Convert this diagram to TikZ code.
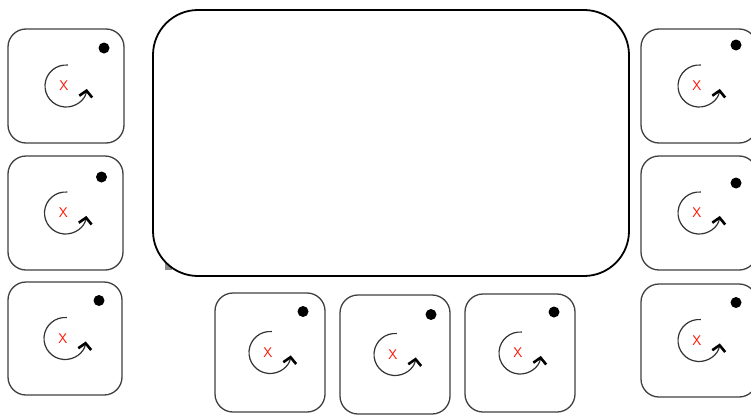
\documentclass[tikz,border=0pt]{standalone}
\usetikzlibrary{arrows.meta}
\tikzset{
  cellbox/.style={draw=black!75, line width=1.3pt, rounded corners=18pt, fill=white, inner sep=0pt},
  bigbox/.style={draw=black, line width=1.8pt, rounded corners=45pt, fill=white, inner sep=0pt, minimum width=476pt, minimum height=266pt},
  cdot/.style={circle, fill=black, inner sep=0pt, minimum size=11pt},
  turn/.style={draw=black!80, line width=1.2pt, -{Straight Barb[length=6pt,width=13pt,line width=2.6pt,color=black]}},
  xmark/.style={text=red!85!orange, font=\sffamily\fontsize{14}{14}\selectfont, inner sep=0pt}
}
% #1 name, #2 center x, #3 center y, #4 width, #5 height, #6 dot dx, #7 dot dy
\newcommand\mycell[7]{%
  \node[cellbox, minimum width=#4pt, minimum height=#5pt] (#1) at (#2,#3) {};
  \node[cdot] (#1d) at ([shift={(#6,#7)}]#1.center) {};
  \node[xmark] (#1x) at ([shift={(-2,0)}]#1.center) {X};
  \draw[turn] ([shift={(85:21pt)}]#1.center) arc[start angle=85, end angle=352, radius=21pt];
}
\begin{document}
\begin{tikzpicture}[x=1pt,y=-1pt]
\useasboundingbox (0,0) rectangle (751,415);
\fill[white] (0,0) rectangle (751,415);
\fill[black!45] (165,262) rectangle (172,270);
\node[bigbox] (main) at (391,143) {};
\mycell{L1}{66}{86}{116}{114}{38}{-38}
\mycell{L2}{65.5}{213}{115}{114}{36}{-36}
\mycell{L3}{65}{338.5}{114}{113}{34}{-38}
\mycell{B1}{270}{352.5}{110}{119}{33}{-41}
\mycell{B2}{395}{354.5}{110}{119}{36}{-40}
\mycell{B3}{520}{353}{110}{118}{34}{-41}
\mycell{R1}{699}{86}{116}{114}{37}{-41}
\mycell{R2}{699}{213}{116}{114}{37}{-30}
\mycell{R3}{699}{340.5}{116}{113}{37}{-38}
\end{tikzpicture}
\end{document}
